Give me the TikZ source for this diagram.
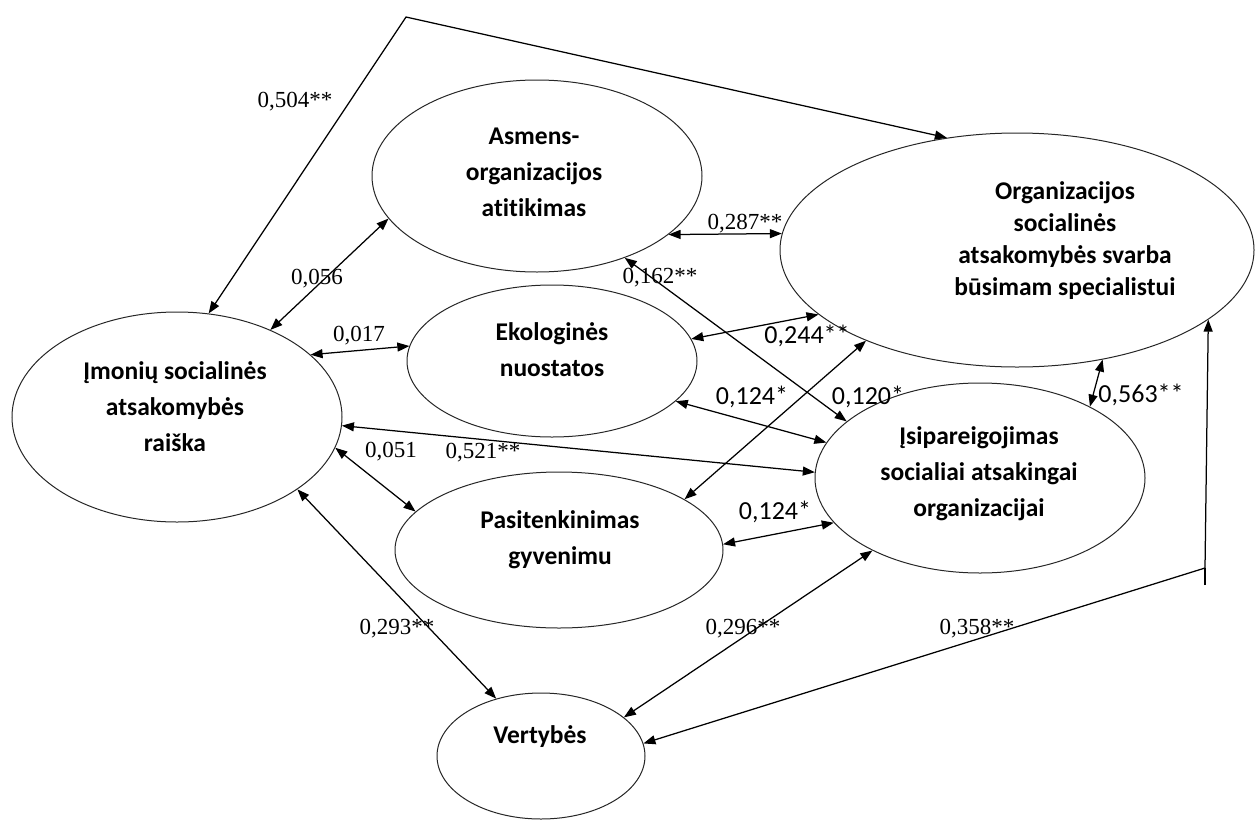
\documentclass[tikz,border=0pt]{standalone}
\usepackage{fontspec}
\setmainfont{Liberation Serif}
\newfontfamily\calibfont[Ligatures=NoCommon]{Carlito}
\usetikzlibrary{arrows.meta, shapes.geometric}

\begin{document}
\begin{tikzpicture}[x=1pt, y=-1pt,
    oval/.style    ={ellipse, draw=black!85, line width=1pt, inner sep=0pt},
    ovaltext/.style={font=\calibfont\bfseries\fontsize{25.5}{36}\selectfont, align=center, inner sep=0pt},
    tighttext/.style={font=\calibfont\bfseries\fontsize{25.5}{32}\selectfont},
    link/.style    ={{Triangle[length=12pt,width=9pt]}-{Triangle[length=12pt,width=9pt]}, line width=1.25pt},
    plainline/.style={line width=1.25pt},
    coefserif/.style={font=\fontsize{23}{23}\selectfont, inner sep=0pt},
    coefsans/.style ={font=\calibfont\fontsize{26}{26}\selectfont, inner sep=0pt}
]
\useasboundingbox (0,0) rectangle (1255,822);

% ---------- constructs ----------
\node[oval, minimum width=330, minimum height=210] (imon) at (177,417) {};
\node[oval, minimum width=330, minimum height=192] (asm)  at (537,176) {};
\node[oval, minimum width=474, minimum height=234] (org)  at (1017,250) {};
\node[oval, minimum width=290, minimum height=152] (eko)  at (552,361) {};
\node[oval, minimum width=328, minimum height=156] (pas)  at (559,550) {};
\node[oval, minimum width=330, minimum height=190] (isip) at (980,478) {};
\node[oval, minimum width=208, minimum height=126] (vert) at (541,756) {};

\node[ovaltext] (imon-t) at (175,407) {Įmonių socialinės\\atsakomybės\\raiška};
\node[ovaltext] (asm-t)  at (534,172) {Asmens-\\organizacijos\\atitikimas};
\node[ovaltext, tighttext] (org-t) at (1065,241) {Organizacijos\\socialinės\\atsakomybės svarba\\būsimam specialistui};
\node[ovaltext] (eko-t)  at (552,350) {Ekologinės\\nuostatos};
\node[ovaltext] (pas-t)  at (560,540) {Pasitenkinimas\\gyvenimu};
\node[ovaltext] (isip-t) at (979,474) {Įsipareigojimas\\socialiai atsakingai\\organizacijai};
\node[ovaltext] (vert-t) at (540,737) {Vertybės};

% ---------- bent paths ----------
\coordinate (peak) at (406,17);
\coordinate (knee) at (1205,568);
\coordinate (tail) at (1205,585);

% ---------- correlations ----------
\draw[link] (imon.73.9) -- (peak) -- (org.122.3);
\draw[link] (imon.43.6) -- (asm.-164.8);
\draw[link] (imon.25.1) -- (eko.174.3);
\draw[link] (imon.-11.2) -- (pas.165.4);
\draw[link] (imon.-3.4) -- (isip.178.3);
\draw[link] (imon.-31.5) -- (vert.128.5);
\draw[link] (asm.-24) -- (org.176);
\draw[link] (asm.-43.6) -- (isip.157.8);
\draw[link] (eko.9.1) -- (org.-162.7);
\draw[link] (eko.-18.4) -- (isip.167.8);
\draw[link] (pas.22.3) -- (org.-149.9);
\draw[link] (pas.2.4) -- (isip.-163.6);
\draw[link] (org.-52.5) -- (isip.33.6);
\draw[link] (isip.-146.5) -- (vert.25.7);
\draw[link] (vert.7) -- (knee) -- (org.-20.8);
\draw[plainline] (tail) -- (knee);

% ---------- coefficients ----------
\node[coefserif] (c504) at (295,102) {0,504**};
\node[coefserif] (c056) at (317,279) {0,056};
\node[coefserif] (c017) at (359,336) {0,017};
\node[coefserif] (c051) at (391,452) {0,051};
\node[coefserif] (c521) at (483,453) {0,521**};
\node[coefserif] (c287) at (745,224) {0,287**};
\node[coefserif] (c162) at (660,278) {0,162**};
\node[coefsans]  (c244) at (807,336) {0,244**};
\node[coefsans]  (c124a) at (752,397) {0,124*};
\node[coefsans]  (c120) at (868,397) {0,120*};
\node[coefsans]  (c124b) at (775,512) {0,124*};
\node[coefsans]  (c563) at (1141,395) {0,563**};
\node[coefserif] (c293) at (397,629) {0,293**};
\node[coefserif] (c296) at (743,629) {0,296**};
\node[coefserif] (c358) at (977,629) {0,358**};

\end{tikzpicture}
\end{document}
